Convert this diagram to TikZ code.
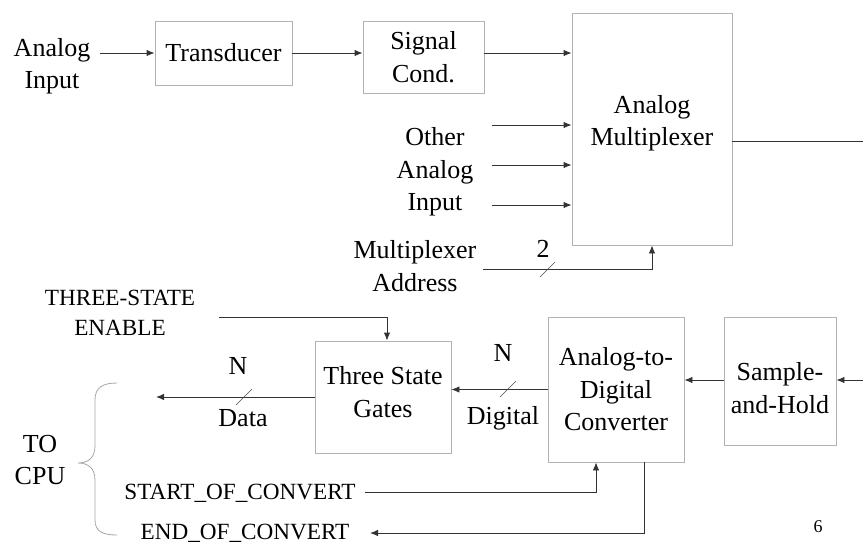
\documentclass[tikz,border=0pt]{standalone}
\usepackage{fontspec}
\setmainfont{Liberation Serif}
\usetikzlibrary{arrows.meta,calc}
\begin{document}
\begin{tikzpicture}[x=1pt,y=-1pt,
  blk/.style={draw=gray!60,line width=0.9pt,align=center,inner sep=0pt,
    font=\fontsize{26}{32.5}\selectfont},
  lbl/.style={align=center,inner sep=0pt,font=\fontsize{26}{32.5}\selectfont},
  caps/.style={align=center,inner sep=0pt,font=\fontsize{23.2}{30}\selectfont},
  wire/.style={draw=black!80,line width=0.9pt},
  arr/.style={wire,-{Latex[length=8pt,width=6.5pt]}},
  busmark/.style={draw=black!70,line width=0.6pt}]
\useasboundingbox (0,0) rectangle (863,550);

% blocks
\node[blk,minimum width=137,minimum height=64] (trans) at (223.5,53) {Transducer};
\node[blk,minimum width=121,minimum height=72] (sig) at (423.5,57) {Signal\\Cond.};
\node[blk,minimum width=160,minimum height=232] (mux) at (652,129) {};
\node[lbl] (muxtxt) at (652,123) {Analog\\Multiplexer};
\node[blk,minimum width=136,minimum height=112] (tsg) at (383,397) {};
\node[lbl] (tsgtxt) at (383,392) {Three State\\Gates};
\node[blk,minimum width=136,minimum height=145] (adc) at (616,389.5) {Analog-to-\\Digital\\Converter};
\node[blk,minimum width=112,minimum height=128] (sh) at (780,381) {};
\node[lbl] (shtxt) at (780,388) {Sample-\\and-Hold};

% input side labels
\node[lbl] (ain) at (52,66) {Analog\\Input};
\node[lbl] (oain) at (435,172) {Other\\Analog\\Input};
\node[lbl] (maddr) at (415,266) {Multiplexer\\Address};
\node[caps] (tse) at (120,313) {THREE-STATE\\ENABLE};
\node[caps] (soc) at (240,493) {START\_OF\_CONVERT};
\node[caps] (eoc) at (245,533) {END\_OF\_CONVERT};
\node[lbl] (tocpu) at (40,460) {TO\\CPU};

% analog path
\coordinate (ainend) at (100,53);
\draw[arr] (ainend) -- (trans.west);
\draw[arr] (trans.east) -- (trans.east -| sig.west);
\draw[arr] (trans.east -| sig.east) -- (trans.east -| mux.west);
\coordinate (o1) at (492,125);
\coordinate (o2) at (492,165);
\coordinate (o3) at (492,205);
\draw[arr] (o1) -- (o1 -| mux.west);
\draw[arr] (o2) -- (o2 -| mux.west);
\draw[arr] (o3) -- (o3 -| mux.west);
\coordinate (mout) at (863,141);
\draw[wire] (mout -| mux.east) -- (mout);

% multiplexer address (2 lines)
\coordinate (ma) at (483,269);
\draw[arr] (ma) -- (ma -| mux.south) -- (mux.south);
\coordinate (s2a) at (540,277);
\coordinate (s2b) at (555,262);
\draw[busmark] (s2a) -- (s2b);
\node[lbl] (two) at (543,249) {2};

% conversion chain
\coordinate (shin) at (863,380);
\draw[arr] (shin) -- (shin -| sh.east);
\draw[arr] (shin -| sh.west) -- (shin -| adc.east);
\draw[arr] (adc.west) -- (adc.west -| tsg.east);
\coordinate (d1a) at (500,397);
\coordinate (d1b) at (516,381);
\draw[busmark] (d1a) -- (d1b);
\node[lbl] (nd) at (503,353) {N};
\node[lbl] (dig) at (503,418) {Digital};

% data out to CPU
\coordinate (dataend) at (156,397);
\draw[arr] (tsg.west) -- (dataend);
\coordinate (d2a) at (236,405);
\coordinate (d2b) at (252,389);
\draw[busmark] (d2a) -- (d2b);
\node[lbl] (nda) at (238,366) {N};
\node[lbl] (data) at (243,418) {Data};

% three-state enable
\coordinate (en) at (219,317);
\coordinate (enx) at (387,317);
\draw[arr] (en) -- (enx) -- (enx |- tsg.north);

% start / end of convert
\coordinate (socs) at (365,492);
\coordinate (socx) at (596,492);
\draw[arr] (socs) -- (socx) -- (socx |- adc.south);
\coordinate (eocx) at (644,533);
\coordinate (eoce) at (370,533);
\draw[arr] (eocx |- adc.south) -- (eocx) -- (eoce);

% brace grouping the CPU signals
\draw[draw=gray!70,line width=0.8pt]
  (117,383) .. controls (102,383) and (95,388) .. (95,400)
  -- (95,446) .. controls (95,458) and (88,463) .. (78,463)
  .. controls (88,463) and (95,468) .. (95,480)
  -- (95,520) .. controls (95,531) and (102,535) .. (117,535);

% page number
\node[inner sep=0pt,font=\fontsize{18}{20}\selectfont] (pg) at (818,527) {6};
\end{tikzpicture}
\end{document}
